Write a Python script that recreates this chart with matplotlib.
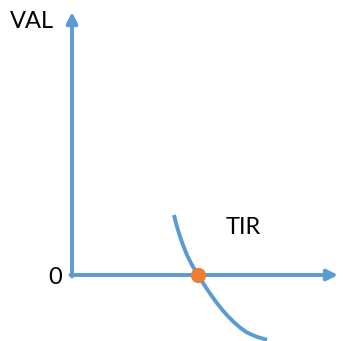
import matplotlib
matplotlib.use("Agg")
import matplotlib.pyplot as plt

# curve (origin at axis corner, y up)
curve_x = [102, 104.5, 107.5, 111, 115, 120, 126, 132, 138, 144, 150, 156, 162, 168, 174, 180, 186, 195]
curve_y = [60, 50, 40, 30, 20, 10, 0, -9.5, -18.5, -26.9, -34.5, -41.3, -47.3, -52.5, -56.9, -59.8, -62.2, -64.8]
root = (126, 0)  # TIR
x_axis_len = 266
y_axis_len = 263

blue = "#5B9BD5"
orange = "#ED7D31"

plt.rcParams['font.family'] = ['Lato', 'DejaVu Sans']

fig = plt.figure(figsize=(3.43, 3.41), dpi=100)
ax = fig.add_axes([0, 0, 1, 1])
ax.set_xlim(-72, 271)
ax.set_ylim(-66, 275)
ax.axis('off')

arrow = dict(arrowstyle='-|>', color=blue, lw=2.8, mutation_scale=16,
             shrinkA=0, shrinkB=0)
ax.annotate('', xy=(x_axis_len, 0), xytext=(-1.5, 0), arrowprops=arrow)
ax.annotate('', xy=(0, y_axis_len), xytext=(0, -1.5), arrowprops=arrow)

ax.plot(curve_x, curve_y, color=blue, lw=2.8, solid_capstyle='butt',
        solid_joinstyle='round')
ax.plot(*root, 'o', color=orange, ms=10, zorder=5)

ax.text(-62, 254, "VAL", fontsize=17, ha='left', va='center')
ax.text(-17, -2, "0", fontsize=17, ha='center', va='center')
ax.text(171, 48, "TIR", fontsize=17, ha='center', va='center')

fig.savefig("out.png", dpi=100)
